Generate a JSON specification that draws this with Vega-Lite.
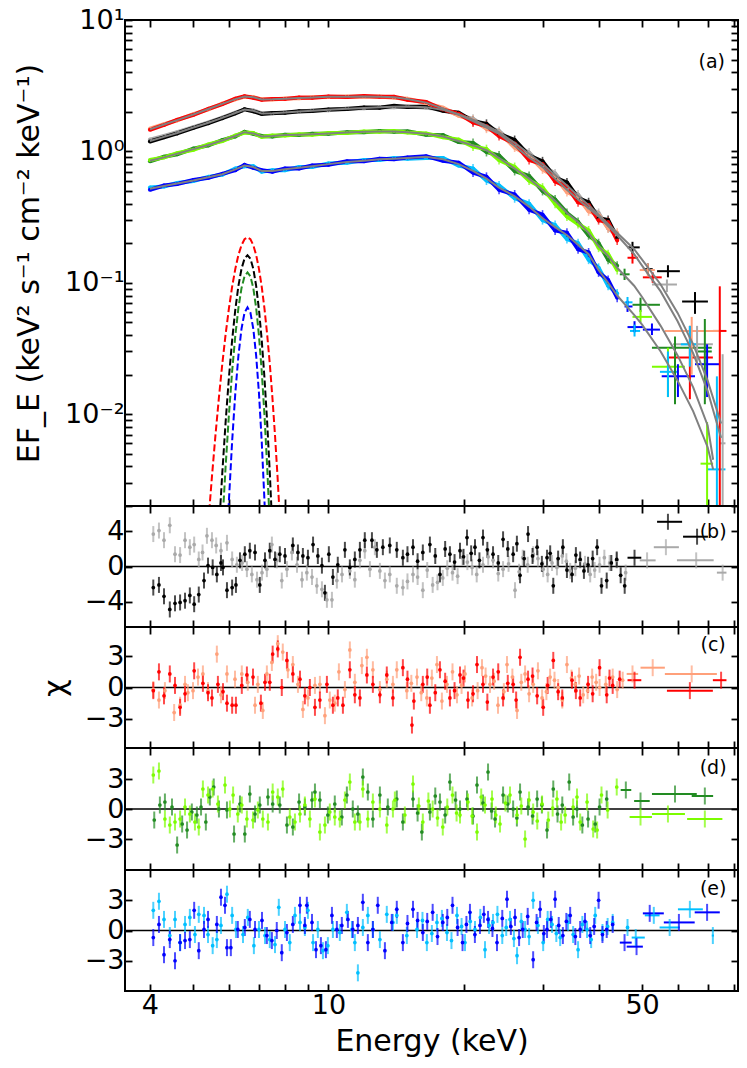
{
  "$schema": "https://vega.github.io/schema/vega-lite/v6.json",
  "padding": {"left": 13, "top": 5, "right": 2, "bottom": 5},
  "spacing": 0,
  "bounds": "flush",
  "config": {
    "font": "DejaVu Sans",
    "view": {"stroke": "black", "strokeWidth": 2},
    "axis": {
      "domain": false,
      "grid": false,
      "tickColor": "black",
      "tickWidth": 1.8,
      "tickSize": -7,
      "labelFontSize": 27,
      "labelColor": "black",
      "labelPadding": 8,
      "titleFontSize": 30,
      "titleFontWeight": "normal",
      "titleColor": "black"
    }
  },
  "datasets": {
    "spec": [
      {"s":"gy","E":4,"F":1.23},{"s":"gy","E":4.3,"F":1.31},{"s":"gy","E":4.6,"F":1.4},{"s":"gy","E":5,"F":1.53},{"s":"gy","E":5.4,"F":1.66},{"s":"gy","E":5.8,"F":1.81},{"s":"gy","E":6.2,"F":1.97},{"s":"gy","E":6.5,"F":2.07},{"s":"gy","E":6.8,"F":2.05},{"s":"gy","E":7.1,"F":1.95},{"s":"gy","E":7.5,"F":1.94},{"s":"gy","E":8,"F":1.99},{"s":"gy","E":8.6,"F":2.0},{"s":"gy","E":9.2,"F":2.05},{"s":"gy","E":10,"F":2.06},{"s":"gy","E":11,"F":2.12},{"s":"gy","E":12,"F":2.13},{"s":"gy","E":13,"F":2.18},{"s":"gy","E":14,"F":2.17},{"s":"gy","E":15,"F":2.21},{"s":"gy","E":16.5,"F":2.15},{"s":"gy","E":18,"F":2.09},{"s":"gy","E":19.5,"F":1.89},{"s":"gy","E":21,"F":1.77},{"s":"gy","E":22.5,"F":1.53},{"s":"gy","E":24,"F":1.43},{"s":"gy","E":26,"F":1.12},{"s":"gy","E":28,"F":0.98},{"s":"gy","E":30,"F":0.77},{"s":"gy","E":32,"F":0.68},{"s":"gy","E":34,"F":0.52},{"s":"gy","E":36,"F":0.47},{"s":"gy","E":38,"F":0.37},{"s":"gy","E":40,"F":0.34},{"s":"gy","E":42,"F":0.26},{"s":"gy","E":44,"F":0.23},
      {"s":"k","E":4,"F":1.19},{"s":"k","E":4.3,"F":1.28},{"s":"k","E":4.6,"F":1.37},{"s":"k","E":5,"F":1.51},{"s":"k","E":5.4,"F":1.64},{"s":"k","E":5.8,"F":1.79},{"s":"k","E":6.2,"F":1.95},{"s":"k","E":6.5,"F":2.09},{"s":"k","E":6.8,"F":2.02},{"s":"k","E":7.1,"F":1.93},{"s":"k","E":7.5,"F":1.96},{"s":"k","E":8,"F":1.97},{"s":"k","E":8.6,"F":2.02},{"s":"k","E":9.2,"F":2.03},{"s":"k","E":10,"F":2.08},{"s":"k","E":11,"F":2.1},{"s":"k","E":12,"F":2.16},{"s":"k","E":13,"F":2.15},{"s":"k","E":14,"F":2.22},{"s":"k","E":15,"F":2.18},{"s":"k","E":16.5,"F":2.2},{"s":"k","E":18,"F":2.04},{"s":"k","E":19.5,"F":1.97},{"s":"k","E":21,"F":1.7},{"s":"k","E":22.5,"F":1.62},{"s":"k","E":24,"F":1.36},{"s":"k","E":26,"F":1.22},{"s":"k","E":28,"F":0.93},{"s":"k","E":30,"F":0.84},{"s":"k","E":32,"F":0.63},{"s":"k","E":34,"F":0.58},{"s":"k","E":36,"F":0.44},{"s":"k","E":38,"F":0.41},{"s":"k","E":40,"F":0.31},{"s":"k","E":42,"F":0.3},{"s":"k","E":44,"F":0.22},
      {"s":"sa","E":4,"F":1.49},{"s":"sa","E":4.3,"F":1.61},{"s":"sa","E":4.6,"F":1.72},{"s":"sa","E":5,"F":1.92},{"s":"sa","E":5.4,"F":2.09},{"s":"sa","E":5.8,"F":2.31},{"s":"sa","E":6.2,"F":2.49},{"s":"sa","E":6.5,"F":2.61},{"s":"sa","E":6.8,"F":2.59},{"s":"sa","E":7.1,"F":2.49},{"s":"sa","E":7.5,"F":2.48},{"s":"sa","E":8,"F":2.53},{"s":"sa","E":8.6,"F":2.54},{"s":"sa","E":9.2,"F":2.58},{"s":"sa","E":10,"F":2.59},{"s":"sa","E":11,"F":2.62},{"s":"sa","E":12,"F":2.61},{"s":"sa","E":13,"F":2.62},{"s":"sa","E":14,"F":2.56},{"s":"sa","E":15,"F":2.52},{"s":"sa","E":16.5,"F":2.32},{"s":"sa","E":18,"F":2.15},{"s":"sa","E":19.5,"F":1.87},{"s":"sa","E":21,"F":1.73},{"s":"sa","E":22.5,"F":1.49},{"s":"sa","E":24,"F":1.39},{"s":"sa","E":26,"F":1.07},{"s":"sa","E":28,"F":0.93},{"s":"sa","E":30,"F":0.73},{"s":"sa","E":32,"F":0.64},{"s":"sa","E":34,"F":0.49},{"s":"sa","E":36,"F":0.45},{"s":"sa","E":38,"F":0.35},{"s":"sa","E":40,"F":0.33},{"s":"sa","E":42,"F":0.26},{"s":"sa","E":44,"F":0.24},
      {"s":"r","E":4,"F":1.46},{"s":"r","E":4.3,"F":1.59},{"s":"r","E":4.6,"F":1.74},{"s":"r","E":5,"F":1.9},{"s":"r","E":5.4,"F":2.11},{"s":"r","E":5.8,"F":2.29},{"s":"r","E":6.2,"F":2.52},{"s":"r","E":6.5,"F":2.63},{"s":"r","E":6.8,"F":2.56},{"s":"r","E":7.1,"F":2.47},{"s":"r","E":7.5,"F":2.5},{"s":"r","E":8,"F":2.51},{"s":"r","E":8.6,"F":2.57},{"s":"r","E":9.2,"F":2.56},{"s":"r","E":10,"F":2.62},{"s":"r","E":11,"F":2.59},{"s":"r","E":12,"F":2.64},{"s":"r","E":13,"F":2.6},{"s":"r","E":14,"F":2.6},{"s":"r","E":15,"F":2.47},{"s":"r","E":16.5,"F":2.38},{"s":"r","E":18,"F":2.08},{"s":"r","E":19.5,"F":1.94},{"s":"r","E":21,"F":1.66},{"s":"r","E":22.5,"F":1.56},{"s":"r","E":24,"F":1.31},{"s":"r","E":26,"F":1.15},{"s":"r","E":28,"F":0.86},{"s":"r","E":30,"F":0.8},{"s":"r","E":32,"F":0.59},{"s":"r","E":34,"F":0.54},{"s":"r","E":36,"F":0.41},{"s":"r","E":38,"F":0.39},{"s":"r","E":40,"F":0.3},{"s":"r","E":42,"F":0.29},{"s":"r","E":44,"F":0.21},
      {"s":"g","E":4,"F":0.84},{"s":"g","E":4.3,"F":0.91},{"s":"g","E":4.6,"F":0.95},{"s":"g","E":5,"F":1.05},{"s":"g","E":5.4,"F":1.11},{"s":"g","E":5.8,"F":1.22},{"s":"g","E":6.2,"F":1.3},{"s":"g","E":6.5,"F":1.41},{"s":"g","E":6.8,"F":1.36},{"s":"g","E":7.1,"F":1.31},{"s":"g","E":7.5,"F":1.3},{"s":"g","E":8,"F":1.34},{"s":"g","E":8.6,"F":1.33},{"s":"g","E":9.2,"F":1.36},{"s":"g","E":10,"F":1.36},{"s":"g","E":11,"F":1.4},{"s":"g","E":12,"F":1.4},{"s":"g","E":13,"F":1.43},{"s":"g","E":14,"F":1.41},{"s":"g","E":15,"F":1.42},{"s":"g","E":16.5,"F":1.34},{"s":"g","E":18,"F":1.33},{"s":"g","E":19.5,"F":1.18},{"s":"g","E":21,"F":1.16},{"s":"g","E":22.5,"F":0.99},{"s":"g","E":24,"F":0.93},{"s":"g","E":26,"F":0.71},{"s":"g","E":28,"F":0.65},{"s":"g","E":30,"F":0.5},{"s":"g","E":32,"F":0.43},{"s":"g","E":34,"F":0.34},{"s":"g","E":36,"F":0.29},{"s":"g","E":38,"F":0.23},{"s":"g","E":40,"F":0.2},{"s":"g","E":42,"F":0.15},{"s":"g","E":44,"F":0.135},
      {"s":"lg","E":4,"F":0.86},{"s":"lg","E":4.3,"F":0.9},{"s":"lg","E":4.6,"F":0.97},{"s":"lg","E":5,"F":1.03},{"s":"lg","E":5.4,"F":1.13},{"s":"lg","E":5.8,"F":1.2},{"s":"lg","E":6.2,"F":1.32},{"s":"lg","E":6.5,"F":1.39},{"s":"lg","E":6.8,"F":1.38},{"s":"lg","E":7.1,"F":1.29},{"s":"lg","E":7.5,"F":1.32},{"s":"lg","E":8,"F":1.32},{"s":"lg","E":8.6,"F":1.35},{"s":"lg","E":9.2,"F":1.34},{"s":"lg","E":10,"F":1.38},{"s":"lg","E":11,"F":1.38},{"s":"lg","E":12,"F":1.42},{"s":"lg","E":13,"F":1.41},{"s":"lg","E":14,"F":1.43},{"s":"lg","E":15,"F":1.39},{"s":"lg","E":16.5,"F":1.37},{"s":"lg","E":18,"F":1.28},{"s":"lg","E":19.5,"F":1.23},{"s":"lg","E":21,"F":1.09},{"s":"lg","E":22.5,"F":1.04},{"s":"lg","E":24,"F":0.86},{"s":"lg","E":26,"F":0.76},{"s":"lg","E":28,"F":0.6},{"s":"lg","E":30,"F":0.53},{"s":"lg","E":32,"F":0.4},{"s":"lg","E":34,"F":0.32},{"s":"lg","E":36,"F":0.28},{"s":"lg","E":38,"F":0.25},{"s":"lg","E":40,"F":0.185},{"s":"lg","E":42,"F":0.165},{"s":"lg","E":44,"F":0.125},
      {"s":"lb","E":4,"F":0.53},{"s":"lb","E":4.3,"F":0.54},{"s":"lb","E":4.6,"F":0.575},{"s":"lb","E":5,"F":0.595},{"s":"lb","E":5.4,"F":0.64},{"s":"lb","E":5.8,"F":0.665},{"s":"lb","E":6.2,"F":0.74},{"s":"lb","E":6.5,"F":0.77},{"s":"lb","E":6.8,"F":0.77},{"s":"lb","E":7.1,"F":0.7},{"s":"lb","E":7.5,"F":0.72},{"s":"lb","E":8,"F":0.72},{"s":"lb","E":8.6,"F":0.76},{"s":"lb","E":9.2,"F":0.76},{"s":"lb","E":10,"F":0.81},{"s":"lb","E":11,"F":0.82},{"s":"lb","E":12,"F":0.86},{"s":"lb","E":13,"F":0.86},{"s":"lb","E":14,"F":0.89},{"s":"lb","E":15,"F":0.88},{"s":"lb","E":16.5,"F":0.89},{"s":"lb","E":18,"F":0.89},{"s":"lb","E":19.5,"F":0.78},{"s":"lb","E":21,"F":0.74},{"s":"lb","E":22.5,"F":0.6},{"s":"lb","E":24,"F":0.55},{"s":"lb","E":26,"F":0.44},{"s":"lb","E":28,"F":0.4},{"s":"lb","E":30,"F":0.3},{"s":"lb","E":32,"F":0.275},{"s":"lb","E":34,"F":0.215},{"s":"lb","E":36,"F":0.2},{"s":"lb","E":38,"F":0.15},{"s":"lb","E":40,"F":0.13},{"s":"lb","E":42,"F":0.095},{"s":"lb","E":44,"F":0.083},
      {"s":"b","E":4,"F":0.51},{"s":"b","E":4.3,"F":0.55},{"s":"b","E":4.6,"F":0.565},{"s":"b","E":5,"F":0.605},{"s":"b","E":5.4,"F":0.63},{"s":"b","E":5.8,"F":0.675},{"s":"b","E":6.2,"F":0.72},{"s":"b","E":6.5,"F":0.79},{"s":"b","E":6.8,"F":0.75},{"s":"b","E":7.1,"F":0.72},{"s":"b","E":7.5,"F":0.7},{"s":"b","E":8,"F":0.74},{"s":"b","E":8.6,"F":0.74},{"s":"b","E":9.2,"F":0.78},{"s":"b","E":10,"F":0.79},{"s":"b","E":11,"F":0.84},{"s":"b","E":12,"F":0.84},{"s":"b","E":13,"F":0.88},{"s":"b","E":14,"F":0.87},{"s":"b","E":15,"F":0.9},{"s":"b","E":16.5,"F":0.92},{"s":"b","E":18,"F":0.85},{"s":"b","E":19.5,"F":0.82},{"s":"b","E":21,"F":0.69},{"s":"b","E":22.5,"F":0.64},{"s":"b","E":24,"F":0.51},{"s":"b","E":26,"F":0.47},{"s":"b","E":28,"F":0.36},{"s":"b","E":30,"F":0.33},{"s":"b","E":32,"F":0.25},{"s":"b","E":34,"F":0.24},{"s":"b","E":36,"F":0.18},{"s":"b","E":38,"F":0.17},{"s":"b","E":40,"F":0.12},{"s":"b","E":42,"F":0.105},{"s":"b","E":44,"F":0.077}
    ],
    "cross": [
      {"s":"k","E":47.6,"El":46.4,"Eh":49.4,"F":0.186,"Fl":0.165,"Fh":0.205},
      {"s":"k","E":51.5,"El":50.2,"Eh":52.8,"F":0.127,"Fl":0.116,"Fh":0.14},
      {"s":"k","E":57.1,"El":54.0,"Eh":60.7,"F":0.1225,"Fl":0.11,"Fh":0.136},
      {"s":"k","E":65.6,"El":61.4,"Eh":70.1,"F":0.072,"Fl":0.058,"Fh":0.085},
      {"s":"gy","E":56.8,"El":52.6,"Eh":59.8,"F":0.097,"Fl":0.085,"Fh":0.106},
      {"s":"gy","E":66.3,"El":58.6,"Eh":71.9,"F":0.034,"Fl":0.024,"Fh":0.047},
      {"s":"gy","E":75.6,"El":74.5,"Eh":76.7,"F":0.006,"Fl":0.0015,"Fh":0.0286},
      {"s":"r","E":47.6,"El":46.4,"Eh":49.0,"F":0.155,"Fl":0.14,"Fh":0.17},
      {"s":"r","E":52.8,"El":50.2,"Eh":55.3,"F":0.11,"Fl":0.1,"Fh":0.12},
      {"s":"r","E":63.9,"El":56.8,"Eh":71.9,"F":0.027,"Fl":0.013,"Fh":0.047},
      {"s":"r","E":74.5,"El":71.9,"Eh":77.1,"F":0.043,"Fl":0.0015,"Fh":0.094},
      {"s":"sa","E":51.5,"El":49.4,"Eh":53.4,"F":0.125,"Fl":0.112,"Fh":0.14},
      {"s":"sa","E":64.5,"El":56.2,"Eh":74.5,"F":0.043,"Fl":0.02,"Fh":0.055},
      {"s":"g","E":45.7,"El":44.6,"Eh":46.9,"F":0.116,"Fl":0.105,"Fh":0.128},
      {"s":"g","E":49.6,"El":47.6,"Eh":54.8,"F":0.068,"Fl":0.06,"Fh":0.077},
      {"s":"g","E":59.2,"El":52.6,"Eh":71.5,"F":0.032,"Fl":0.0119,"Fh":0.039},
      {"s":"g","E":69.0,"El":66.5,"Eh":71.5,"F":0.03,"Fl":0.0119,"Fh":0.053},
      {"s":"lg","E":49.6,"El":47.6,"Eh":52.6,"F":0.055,"Fl":0.05,"Fh":0.062},
      {"s":"lg","E":57.1,"El":52.6,"Eh":62.3,"F":0.023,"Fl":0.0135,"Fh":0.032},
      {"s":"lg","E":69.8,"El":67.5,"Eh":72.0,"F":0.0042,"Fl":0.0015,"Fh":0.0087},
      {"s":"b","E":46.4,"El":45.7,"Eh":47.6,"F":0.066,"Fl":0.06,"Fh":0.073},
      {"s":"b","E":48.1,"El":46.4,"Eh":50.2,"F":0.046,"Fl":0.042,"Fh":0.051},
      {"s":"b","E":52.6,"El":50.2,"Eh":54.8,"F":0.044,"Fl":0.04,"Fh":0.049},
      {"s":"b","E":60.1,"El":55.3,"Eh":65.6,"F":0.0194,"Fl":0.0135,"Fh":0.024},
      {"s":"b","E":69.8,"El":65.6,"Eh":74.5,"F":0.024,"Fl":0.0135,"Fh":0.034},
      {"s":"lb","E":46.4,"El":45.7,"Eh":47.6,"F":0.071,"Fl":0.064,"Fh":0.078},
      {"s":"lb","E":48.1,"El":47.0,"Eh":49.5,"F":0.043,"Fl":0.039,"Fh":0.048},
      {"s":"lb","E":57.1,"El":54.8,"Eh":59.8,"F":0.021,"Fl":0.0135,"Fh":0.03},
      {"s":"lb","E":63.9,"El":61.0,"Eh":66.5,"F":0.034,"Fl":0.023,"Fh":0.047},
      {"s":"lb","E":73.4,"El":69.8,"Eh":76.7,"F":0.0038,"Fl":0.0015,"Fh":0.0194}
    ],
    "model": [
      {"m":"k","E":4,"F":1.2},{"m":"k","E":4.3,"F":1.29},{"m":"k","E":4.6,"F":1.38},{"m":"k","E":5,"F":1.52},{"m":"k","E":5.4,"F":1.65},{"m":"k","E":5.8,"F":1.8},{"m":"k","E":6.2,"F":1.96},{"m":"k","E":6.5,"F":2.08},{"m":"k","E":6.8,"F":2.04},{"m":"k","E":7.1,"F":1.94},{"m":"k","E":7.5,"F":1.95},{"m":"k","E":8,"F":1.98},{"m":"k","E":8.6,"F":2.01},{"m":"k","E":9.2,"F":2.04},{"m":"k","E":10,"F":2.07},{"m":"k","E":11,"F":2.11},{"m":"k","E":12,"F":2.14},{"m":"k","E":13,"F":2.17},{"m":"k","E":14,"F":2.19},{"m":"k","E":15,"F":2.2},{"m":"k","E":16.5,"F":2.17},{"m":"k","E":18,"F":2.07},{"m":"k","E":19.5,"F":1.92},{"m":"k","E":21,"F":1.74},{"m":"k","E":22.5,"F":1.57},{"m":"k","E":24,"F":1.4},{"m":"k","E":26,"F":1.16},{"m":"k","E":28,"F":0.96},{"m":"k","E":30,"F":0.8},{"m":"k","E":32,"F":0.66},{"m":"k","E":34,"F":0.55},{"m":"k","E":36,"F":0.46},{"m":"k","E":38,"F":0.39},{"m":"k","E":40,"F":0.33},{"m":"k","E":42,"F":0.28},{"m":"k","E":44,"F":0.24},{"m":"k","E":48,"F":0.18},{"m":"k","E":50,"F":0.15},{"m":"k","E":55,"F":0.097},{"m":"k","E":60,"F":0.059},{"m":"k","E":65,"F":0.034},{"m":"k","E":70,"F":0.018},{"m":"k","E":75,"F":0.0085},
      {"m":"r","E":4,"F":1.47},{"m":"r","E":4.3,"F":1.6},{"m":"r","E":4.6,"F":1.73},{"m":"r","E":5,"F":1.91},{"m":"r","E":5.4,"F":2.1},{"m":"r","E":5.8,"F":2.3},{"m":"r","E":6.2,"F":2.5},{"m":"r","E":6.5,"F":2.62},{"m":"r","E":6.8,"F":2.58},{"m":"r","E":7.1,"F":2.48},{"m":"r","E":7.5,"F":2.49},{"m":"r","E":8,"F":2.52},{"m":"r","E":8.6,"F":2.55},{"m":"r","E":9.2,"F":2.57},{"m":"r","E":10,"F":2.6},{"m":"r","E":11,"F":2.61},{"m":"r","E":12,"F":2.62},{"m":"r","E":13,"F":2.61},{"m":"r","E":14,"F":2.58},{"m":"r","E":15,"F":2.5},{"m":"r","E":16.5,"F":2.35},{"m":"r","E":18,"F":2.12},{"m":"r","E":19.5,"F":1.9},{"m":"r","E":21,"F":1.7},{"m":"r","E":22.5,"F":1.52},{"m":"r","E":24,"F":1.36},{"m":"r","E":26,"F":1.1},{"m":"r","E":28,"F":0.9},{"m":"r","E":30,"F":0.76},{"m":"r","E":32,"F":0.62},{"m":"r","E":34,"F":0.51},{"m":"r","E":36,"F":0.43},{"m":"r","E":38,"F":0.37},{"m":"r","E":40,"F":0.32},{"m":"r","E":42,"F":0.27},{"m":"r","E":44,"F":0.23},{"m":"r","E":48,"F":0.165},{"m":"r","E":50,"F":0.135},{"m":"r","E":55,"F":0.086},{"m":"r","E":60,"F":0.051},{"m":"r","E":65,"F":0.029},{"m":"r","E":70,"F":0.015},{"m":"r","E":75,"F":0.0066},
      {"m":"g","E":4,"F":0.85},{"m":"g","E":4.3,"F":0.9},{"m":"g","E":4.6,"F":0.96},{"m":"g","E":5,"F":1.04},{"m":"g","E":5.4,"F":1.12},{"m":"g","E":5.8,"F":1.21},{"m":"g","E":6.2,"F":1.31},{"m":"g","E":6.5,"F":1.4},{"m":"g","E":6.8,"F":1.37},{"m":"g","E":7.1,"F":1.3},{"m":"g","E":7.5,"F":1.31},{"m":"g","E":8,"F":1.33},{"m":"g","E":8.6,"F":1.34},{"m":"g","E":9.2,"F":1.35},{"m":"g","E":10,"F":1.37},{"m":"g","E":11,"F":1.39},{"m":"g","E":12,"F":1.41},{"m":"g","E":13,"F":1.42},{"m":"g","E":14,"F":1.42},{"m":"g","E":15,"F":1.4},{"m":"g","E":16.5,"F":1.36},{"m":"g","E":18,"F":1.3},{"m":"g","E":19.5,"F":1.2},{"m":"g","E":21,"F":1.11},{"m":"g","E":22.5,"F":1.02},{"m":"g","E":24,"F":0.89},{"m":"g","E":26,"F":0.74},{"m":"g","E":28,"F":0.62},{"m":"g","E":30,"F":0.51},{"m":"g","E":32,"F":0.42},{"m":"g","E":34,"F":0.34},{"m":"g","E":36,"F":0.29},{"m":"g","E":38,"F":0.24},{"m":"g","E":40,"F":0.19},{"m":"g","E":42,"F":0.16},{"m":"g","E":44,"F":0.13},{"m":"g","E":48,"F":0.095},{"m":"g","E":50,"F":0.078},{"m":"g","E":55,"F":0.047},{"m":"g","E":60,"F":0.028},{"m":"g","E":65,"F":0.016},{"m":"g","E":70,"F":0.0082},{"m":"g","E":72,"F":0.0045},
      {"m":"b","E":4,"F":0.52},{"m":"b","E":4.3,"F":0.545},{"m":"b","E":4.6,"F":0.57},{"m":"b","E":5,"F":0.6},{"m":"b","E":5.4,"F":0.635},{"m":"b","E":5.8,"F":0.67},{"m":"b","E":6.2,"F":0.73},{"m":"b","E":6.5,"F":0.78},{"m":"b","E":6.8,"F":0.76},{"m":"b","E":7.1,"F":0.71},{"m":"b","E":7.5,"F":0.71},{"m":"b","E":8,"F":0.73},{"m":"b","E":8.6,"F":0.75},{"m":"b","E":9.2,"F":0.77},{"m":"b","E":10,"F":0.8},{"m":"b","E":11,"F":0.83},{"m":"b","E":12,"F":0.85},{"m":"b","E":13,"F":0.87},{"m":"b","E":14,"F":0.88},{"m":"b","E":15,"F":0.89},{"m":"b","E":16.5,"F":0.91},{"m":"b","E":18,"F":0.87},{"m":"b","E":19.5,"F":0.8},{"m":"b","E":21,"F":0.71},{"m":"b","E":22.5,"F":0.62},{"m":"b","E":24,"F":0.53},{"m":"b","E":26,"F":0.455},{"m":"b","E":28,"F":0.38},{"m":"b","E":30,"F":0.31},{"m":"b","E":32,"F":0.265},{"m":"b","E":34,"F":0.23},{"m":"b","E":36,"F":0.195},{"m":"b","E":38,"F":0.165},{"m":"b","E":40,"F":0.125},{"m":"b","E":42,"F":0.1},{"m":"b","E":44,"F":0.08},{"m":"b","E":48,"F":0.057},{"m":"b","E":50,"F":0.048},{"m":"b","E":55,"F":0.03},{"m":"b","E":60,"F":0.018},{"m":"b","E":65,"F":0.0105},{"m":"b","E":70,"F":0.0056},{"m":"b","E":72,"F":0.0038}
    ],
    "gauss": [
      {"s":"r","E":5.3,"F":0.00064},{"s":"r","E":5.4,"F":0.00152},{"s":"r","E":5.5,"F":0.00336},{"s":"r","E":5.6,"F":0.00695},{"s":"r","E":5.7,"F":0.0134},{"s":"r","E":5.8,"F":0.0242},{"s":"r","E":5.9,"F":0.0407},{"s":"r","E":6.0,"F":0.0638},{"s":"r","E":6.1,"F":0.0934},{"s":"r","E":6.2,"F":0.1276},{"s":"r","E":6.3,"F":0.163},{"s":"r","E":6.4,"F":0.1933},{"s":"r","E":6.5,"F":0.2144},{"s":"r","E":6.6,"F":0.222},{"s":"r","E":6.7,"F":0.2144},{"s":"r","E":6.8,"F":0.1933},{"s":"r","E":6.9,"F":0.163},{"s":"r","E":7.0,"F":0.1276},{"s":"r","E":7.1,"F":0.0934},{"s":"r","E":7.2,"F":0.0638},{"s":"r","E":7.3,"F":0.0407},{"s":"r","E":7.4,"F":0.0242},{"s":"r","E":7.5,"F":0.0134},{"s":"r","E":7.6,"F":0.00695},{"s":"r","E":7.7,"F":0.00336},{"s":"r","E":7.8,"F":0.00152},{"s":"r","E":7.9,"F":0.00064},
      {"s":"k","E":5.6,"F":0.00042},{"s":"k","E":5.7,"F":0.00131},{"s":"k","E":5.8,"F":0.00359},{"s":"k","E":5.9,"F":0.00877},{"s":"k","E":6.0,"F":0.019},{"s":"k","E":6.1,"F":0.0366},{"s":"k","E":6.2,"F":0.0625},{"s":"k","E":6.3,"F":0.0948},{"s":"k","E":6.4,"F":0.1277},{"s":"k","E":6.5,"F":0.1527},{"s":"k","E":6.6,"F":0.162},{"s":"k","E":6.7,"F":0.1527},{"s":"k","E":6.8,"F":0.1277},{"s":"k","E":6.9,"F":0.0948},{"s":"k","E":7.0,"F":0.0625},{"s":"k","E":7.1,"F":0.0366},{"s":"k","E":7.2,"F":0.019},{"s":"k","E":7.3,"F":0.00877},{"s":"k","E":7.4,"F":0.00359},{"s":"k","E":7.5,"F":0.00131},{"s":"k","E":7.6,"F":0.00042},
      {"s":"g","E":5.7,"F":0.00044},{"s":"g","E":5.8,"F":0.00143},{"s":"g","E":5.9,"F":0.00403},{"s":"g","E":6.0,"F":0.0099},{"s":"g","E":6.1,"F":0.0212},{"s":"g","E":6.2,"F":0.0396},{"s":"g","E":6.3,"F":0.0644},{"s":"g","E":6.4,"F":0.091},{"s":"g","E":6.5,"F":0.112},{"s":"g","E":6.6,"F":0.12},{"s":"g","E":6.7,"F":0.112},{"s":"g","E":6.8,"F":0.091},{"s":"g","E":6.9,"F":0.0644},{"s":"g","E":7.0,"F":0.0396},{"s":"g","E":7.1,"F":0.0212},{"s":"g","E":7.2,"F":0.0099},{"s":"g","E":7.3,"F":0.00403},{"s":"g","E":7.4,"F":0.00143},{"s":"g","E":7.5,"F":0.00044},
      {"s":"b","E":5.9,"F":0.00065},{"s":"b","E":6.0,"F":0.00221},{"s":"b","E":6.1,"F":0.00622},{"s":"b","E":6.2,"F":0.01447},{"s":"b","E":6.3,"F":0.0279},{"s":"b","E":6.4,"F":0.0446},{"s":"b","E":6.5,"F":0.0592},{"s":"b","E":6.6,"F":0.065},{"s":"b","E":6.7,"F":0.0592},{"s":"b","E":6.8,"F":0.0446},{"s":"b","E":6.9,"F":0.0279},{"s":"b","E":7.0,"F":0.01447},{"s":"b","E":7.1,"F":0.00622},{"s":"b","E":7.2,"F":0.00221},{"s":"b","E":7.3,"F":0.00065}
    ],
    "res": [
      {"s":"gy","E":4.07,"R":3.7},{"s":"gy","E":4.19,"R":4.1},{"s":"gy","E":4.3,"R":3},{"s":"gy","E":4.43,"R":4.7},{"s":"gy","E":4.55,"R":1.4},{"s":"gy","E":4.67,"R":1.3},{"s":"gy","E":4.79,"R":3},{"s":"gy","E":4.91,"R":2.2},{"s":"gy","E":5.02,"R":2.5},{"s":"gy","E":5.14,"R":0.8},{"s":"gy","E":5.24,"R":1.6},{"s":"gy","E":5.36,"R":3.5},{"s":"gy","E":5.5,"R":3},{"s":"gy","E":5.62,"R":2.4},{"s":"gy","E":5.76,"R":1.8},{"s":"gy","E":5.94,"R":2.7},{"s":"gy","E":6.1,"R":0.8},{"s":"gy","E":6.25,"R":0.2},{"s":"gy","E":6.42,"R":0.4},{"s":"gy","E":6.58,"R":-0.3},{"s":"gy","E":6.75,"R":-0.9},{"s":"gy","E":6.93,"R":-1.5},{"s":"gy","E":7.11,"R":-0.7},{"s":"gy","E":7.29,"R":-0.3},{"s":"gy","E":7.48,"R":2.5},{"s":"gy","E":7.67,"R":0.7},{"s":"gy","E":7.87,"R":-1.6},{"s":"gy","E":8.08,"R":-0.3},{"s":"gy","E":8.29,"R":1.6},{"s":"gy","E":8.51,"R":0.2},{"s":"gy","E":8.73,"R":-1.5},{"s":"gy","E":8.95,"R":-0.7},{"s":"gy","E":9.19,"R":-1.2},{"s":"gy","E":9.42,"R":-2.2},{"s":"gy","E":9.67,"R":-2.6},{"s":"gy","E":9.92,"R":-3.8},{"s":"gy","E":10.18,"R":-3.8},{"s":"gy","E":10.44,"R":-1.6},{"s":"gy","E":10.72,"R":-0.9},{"s":"gy","E":11.16,"R":-0.5},{"s":"gy","E":11.45,"R":-1.5},{"s":"gy","E":11.75,"R":0.7},{"s":"gy","E":12.05,"R":1.8},{"s":"gy","E":12.37,"R":-0.3},{"s":"gy","E":12.69,"R":2.2},{"s":"gy","E":13.02,"R":-0.5},{"s":"gy","E":13.36,"R":-1.6},{"s":"gy","E":13.7,"R":-0.9},{"s":"gy","E":14.2,"R":-2.2},{"s":"gy","E":14.65,"R":-2.4},{"s":"gy","E":15,"R":-1.7},{"s":"gy","E":15.43,"R":-0.9},{"s":"gy","E":15.8,"R":-1.2},{"s":"gy","E":16.23,"R":-2.7},{"s":"gy","E":16.6,"R":-0.4},{"s":"gy","E":17.07,"R":-2.1},{"s":"gy","E":17.5,"R":-1.8},{"s":"gy","E":17.98,"R":-1.3},{"s":"gy","E":18.4,"R":-0.2},{"s":"gy","E":18.9,"R":-0.7},{"s":"gy","E":19.4,"R":-1.1},{"s":"gy","E":19.9,"R":1},{"s":"gy","E":20.4,"R":0.5},{"s":"gy","E":20.9,"R":-0.1},{"s":"gy","E":21.4,"R":-0.9},{"s":"gy","E":22.1,"R":0.2},{"s":"gy","E":22.7,"R":1.1},{"s":"gy","E":23.27,"R":0.7},{"s":"gy","E":23.9,"R":-0.8},{"s":"gy","E":24.5,"R":-0.3},{"s":"gy","E":25.2,"R":0.3},{"s":"gy","E":26.05,"R":-2.7},{"s":"gy","E":26.6,"R":-0.6},{"s":"gy","E":27.1,"R":1},{"s":"gy","E":27.8,"R":0.2},{"s":"gy","E":28.6,"R":1.4},{"s":"gy","E":29.3,"R":0.9},{"s":"gy","E":30.1,"R":-0.3},{"s":"gy","E":30.8,"R":-0.9},{"s":"gy","E":31.5,"R":0.4},{"s":"gy","E":32.3,"R":-0.1},{"s":"gy","E":33.2,"R":1.2},{"s":"gy","E":33.9,"R":0.6},{"s":"gy","E":34.57,"R":-0.5},{"s":"gy","E":35.5,"R":-0.2},{"s":"gy","E":36.39,"R":0.7},{"s":"gy","E":37.3,"R":0.3},{"s":"gy","E":38.31,"R":-0.9},{"s":"gy","E":39.2,"R":-0.4},{"s":"gy","E":40.2,"R":0.2},{"s":"gy","E":41.2,"R":1},{"s":"gy","E":42.33,"R":0.4},{"s":"gy","E":43.9,"R":0.7},{"s":"gy","E":45.96,"R":-0.7},
      {"s":"k","E":4.07,"R":-2.4},{"s":"k","E":4.19,"R":-2.1},{"s":"k","E":4.3,"R":-3.4},{"s":"k","E":4.43,"R":-4.9},{"s":"k","E":4.55,"R":-4.2},{"s":"k","E":4.67,"R":-4.1},{"s":"k","E":4.79,"R":-3.9},{"s":"k","E":4.91,"R":-3.3},{"s":"k","E":5.02,"R":-4.3},{"s":"k","E":5.14,"R":-3.2},{"s":"k","E":5.28,"R":-1.6},{"s":"k","E":5.39,"R":0.1},{"s":"k","E":5.52,"R":-0.1},{"s":"k","E":5.64,"R":-0.9},{"s":"k","E":5.76,"R":0.4},{"s":"k","E":5.82,"R":-0.1},{"s":"k","E":5.94,"R":-2.7},{"s":"k","E":6.1,"R":-2.4},{"s":"k","E":6.22,"R":-2.1},{"s":"k","E":6.35,"R":0.7},{"s":"k","E":6.51,"R":1.4},{"s":"k","E":6.68,"R":1.8},{"s":"k","E":6.86,"R":1.6},{"s":"k","E":7.03,"R":-2.1},{"s":"k","E":7.22,"R":0.7},{"s":"k","E":7.4,"R":1.8},{"s":"k","E":7.6,"R":0.8},{"s":"k","E":7.79,"R":1.4},{"s":"k","E":8,"R":1.2},{"s":"k","E":8.33,"R":2.4},{"s":"k","E":8.55,"R":1.6},{"s":"k","E":8.77,"R":1.2},{"s":"k","E":9,"R":1},{"s":"k","E":9.24,"R":2.5},{"s":"k","E":9.47,"R":1.2},{"s":"k","E":9.67,"R":0.1},{"s":"k","E":9.82,"R":-3},{"s":"k","E":10.02,"R":1.4},{"s":"k","E":10.23,"R":-1.2},{"s":"k","E":10.49,"R":0.2},{"s":"k","E":10.88,"R":1.9},{"s":"k","E":11.16,"R":-0.1},{"s":"k","E":11.45,"R":0.8},{"s":"k","E":11.75,"R":1.9},{"s":"k","E":12.05,"R":3},{"s":"k","E":12.5,"R":3},{"s":"k","E":12.82,"R":1.9},{"s":"k","E":13.22,"R":2.2},{"s":"k","E":13.7,"R":2.4},{"s":"k","E":14.2,"R":1.9},{"s":"k","E":14.65,"R":1},{"s":"k","E":15,"R":1.4},{"s":"k","E":15.43,"R":2.2},{"s":"k","E":15.8,"R":0.6},{"s":"k","E":16.23,"R":1.6},{"s":"k","E":16.83,"R":2.5},{"s":"k","E":17.3,"R":1.2},{"s":"k","E":17.72,"R":-0.9},{"s":"k","E":18.2,"R":2},{"s":"k","E":18.65,"R":1.4},{"s":"k","E":19.1,"R":0.5},{"s":"k","E":19.64,"R":1.8},{"s":"k","E":20,"R":1.1},{"s":"k","E":20.36,"R":3.3},{"s":"k","E":20.8,"R":1.5},{"s":"k","E":21.21,"R":2.2},{"s":"k","E":21.7,"R":0.7},{"s":"k","E":22.1,"R":3.3},{"s":"k","E":22.6,"R":1.9},{"s":"k","E":23.27,"R":1.4},{"s":"k","E":23.9,"R":0.4},{"s":"k","E":24.5,"R":3.1},{"s":"k","E":25.1,"R":2},{"s":"k","E":25.8,"R":1.4},{"s":"k","E":26.3,"R":2.6},{"s":"k","E":26.73,"R":-1},{"s":"k","E":27.3,"R":0.9},{"s":"k","E":27.85,"R":3.7},{"s":"k","E":28.5,"R":1.2},{"s":"k","E":29.18,"R":2.2},{"s":"k","E":29.9,"R":0.3},{"s":"k","E":30.7,"R":1},{"s":"k","E":31.2,"R":1.5},{"s":"k","E":31.7,"R":-2.2},{"s":"k","E":32.5,"R":0.9},{"s":"k","E":33.3,"R":2.2},{"s":"k","E":34,"R":-0.4},{"s":"k","E":34.9,"R":-0.9},{"s":"k","E":35.6,"R":1.3},{"s":"k","E":36.39,"R":0.8},{"s":"k","E":37.1,"R":-0.5},{"s":"k","E":37.9,"R":0.2},{"s":"k","E":38.8,"R":0.9},{"s":"k","E":39.7,"R":2.2},{"s":"k","E":40.6,"R":-2.2},{"s":"k","E":41.7,"R":-1.6},{"s":"k","E":42.7,"R":0.4},{"s":"k","E":43.9,"R":0.8},{"s":"k","E":44.8,"R":-1},{"s":"k","E":45.73,"R":-2.2},
      {"s":"sa","E":4.07,"R":-0.2},{"s":"sa","E":4.19,"R":-1.2},{"s":"sa","E":4.32,"R":-0.3},{"s":"sa","E":4.53,"R":-2.4},{"s":"sa","E":4.67,"R":-1.7},{"s":"sa","E":4.79,"R":0.3},{"s":"sa","E":4.86,"R":-0.5},{"s":"sa","E":4.99,"R":-0.3},{"s":"sa","E":5.12,"R":1},{"s":"sa","E":5.25,"R":1.3},{"s":"sa","E":5.39,"R":-0.3},{"s":"sa","E":5.64,"R":3.2},{"s":"sa","E":5.76,"R":-0.7},{"s":"sa","E":5.94,"R":1.3},{"s":"sa","E":6.19,"R":0.8},{"s":"sa","E":6.41,"R":1.3},{"s":"sa","E":6.61,"R":0.5},{"s":"sa","E":6.86,"R":-1.7},{"s":"sa","E":6.96,"R":0.3},{"s":"sa","E":7.14,"R":-2.2},{"s":"sa","E":7.29,"R":1.3},{"s":"sa","E":7.48,"R":2.4},{"s":"sa","E":7.71,"R":4.2},{"s":"sa","E":7.91,"R":3.4},{"s":"sa","E":8.12,"R":1.7},{"s":"sa","E":8.33,"R":2.2},{"s":"sa","E":8.55,"R":0.3},{"s":"sa","E":8.77,"R":-2.1},{"s":"sa","E":9,"R":-1},{"s":"sa","E":9.33,"R":0.2},{"s":"sa","E":9.57,"R":0.3},{"s":"sa","E":9.82,"R":-2.7},{"s":"sa","E":10.07,"R":-1.2},{"s":"sa","E":10.33,"R":-1.5},{"s":"sa","E":10.55,"R":1.5},{"s":"sa","E":10.88,"R":-0.2},{"s":"sa","E":11.16,"R":3.6},{"s":"sa","E":11.45,"R":0.5},{"s":"sa","E":11.87,"R":2.1},{"s":"sa","E":12.18,"R":2.9},{"s":"sa","E":12.56,"R":1.7},{"s":"sa","E":13.02,"R":-0.2},{"s":"sa","E":13.49,"R":0.8},{"s":"sa","E":13.92,"R":0.3},{"s":"sa","E":14.2,"R":1.7},{"s":"sa","E":14.95,"R":-0.3},{"s":"sa","E":15.3,"R":0.4},{"s":"sa","E":15.75,"R":1},{"s":"sa","E":16.1,"R":-0.5},{"s":"sa","E":16.57,"R":-1},{"s":"sa","E":17,"R":0.9},{"s":"sa","E":17.45,"R":2.2},{"s":"sa","E":17.9,"R":-1.3},{"s":"sa","E":18.37,"R":0.3},{"s":"sa","E":18.9,"R":1.5},{"s":"sa","E":19.34,"R":-0.7},{"s":"sa","E":19.8,"R":0.2},{"s":"sa","E":20.15,"R":1.3},{"s":"sa","E":20.9,"R":-1},{"s":"sa","E":21.5,"R":-0.3},{"s":"sa","E":21.99,"R":1.9},{"s":"sa","E":22.4,"R":1.1},{"s":"sa","E":22.91,"R":0.3},{"s":"sa","E":23.4,"R":0.6},{"s":"sa","E":23.87,"R":-1.7},{"s":"sa","E":24.6,"R":-0.4},{"s":"sa","E":25,"R":2.2},{"s":"sa","E":25.7,"R":1},{"s":"sa","E":26.32,"R":-2.2},{"s":"sa","E":26.9,"R":0.5},{"s":"sa","E":27.43,"R":1.3},{"s":"sa","E":28,"R":-0.6},{"s":"sa","E":28.59,"R":0.3},{"s":"sa","E":29.3,"R":1.6},{"s":"sa","E":29.93,"R":-1},{"s":"sa","E":30.6,"R":-0.4},{"s":"sa","E":31.19,"R":1},{"s":"sa","E":31.9,"R":0.7},{"s":"sa","E":32.5,"R":0},{"s":"sa","E":33.2,"R":-1.2},{"s":"sa","E":34,"R":2.2},{"s":"sa","E":34.8,"R":0.9},{"s":"sa","E":35.47,"R":0.3},{"s":"sa","E":36.2,"R":1.1},{"s":"sa","E":36.96,"R":-0.7},{"s":"sa","E":37.8,"R":-0.3},{"s":"sa","E":38.7,"R":1},{"s":"sa","E":39.5,"R":0.5},{"s":"sa","E":40.2,"R":0},{"s":"sa","E":41.5,"R":0.3},{"s":"sa","E":43,"R":1},{"s":"sa","E":44,"R":-0.2},{"s":"sa","E":45.26,"R":0.7},
      {"s":"r","E":4.07,"R":-0.3},{"s":"r","E":4.19,"R":1.5},{"s":"r","E":4.3,"R":-0.8},{"s":"r","E":4.43,"R":1.3},{"s":"r","E":4.55,"R":0.2},{"s":"r","E":4.67,"R":-1.9},{"s":"r","E":4.79,"R":-0.6},{"s":"r","E":5.02,"R":1.6},{"s":"r","E":5.25,"R":0.4},{"s":"r","E":5.39,"R":-0.5},{"s":"r","E":5.5,"R":-1},{"s":"r","E":5.67,"R":0.3},{"s":"r","E":5.82,"R":-0.4},{"s":"r","E":5.94,"R":-1.5},{"s":"r","E":6.1,"R":-1.7},{"s":"r","E":6.22,"R":-1.7},{"s":"r","E":6.41,"R":0.2},{"s":"r","E":6.58,"R":1.2},{"s":"r","E":6.79,"R":1},{"s":"r","E":7.07,"R":-1.5},{"s":"r","E":7.22,"R":0.5},{"s":"r","E":7.4,"R":0.5},{"s":"r","E":7.51,"R":3.2},{"s":"r","E":7.71,"R":3.7},{"s":"r","E":7.87,"R":0},{"s":"r","E":8.08,"R":2.6},{"s":"r","E":8.33,"R":1.3},{"s":"r","E":8.64,"R":0.8},{"s":"r","E":8.86,"R":-0.8},{"s":"r","E":9.09,"R":0},{"s":"r","E":9.33,"R":-1.9},{"s":"r","E":9.57,"R":-1.2},{"s":"r","E":9.92,"R":0.3},{"s":"r","E":10.23,"R":-1.7},{"s":"r","E":10.49,"R":-1},{"s":"r","E":10.77,"R":-1.7},{"s":"r","E":11.16,"R":1.7},{"s":"r","E":11.45,"R":-0.7},{"s":"r","E":11.75,"R":-1},{"s":"r","E":12.18,"R":1.2},{"s":"r","E":12.56,"R":0.3},{"s":"r","E":13.02,"R":-0.7},{"s":"r","E":13.49,"R":1.2},{"s":"r","E":13.92,"R":-1},{"s":"r","E":14.65,"R":1.9},{"s":"r","E":15,"R":0.8},{"s":"r","E":15.35,"R":-3.6},{"s":"r","E":15.5,"R":-1.3},{"s":"r","E":16.23,"R":0.3},{"s":"r","E":16.6,"R":1},{"s":"r","E":16.83,"R":-1.7},{"s":"r","E":17.3,"R":-0.5},{"s":"r","E":17.72,"R":1.7},{"s":"r","E":18.2,"R":0.6},{"s":"r","E":18.65,"R":-1},{"s":"r","E":19.1,"R":-0.3},{"s":"r","E":19.64,"R":1.2},{"s":"r","E":20,"R":0.9},{"s":"r","E":20.46,"R":-1.2},{"s":"r","E":21,"R":-0.6},{"s":"r","E":21.43,"R":2.2},{"s":"r","E":22.1,"R":0.3},{"s":"r","E":22.6,"R":-1.4},{"s":"r","E":23.27,"R":1},{"s":"r","E":23.9,"R":1.5},{"s":"r","E":24.5,"R":-1},{"s":"r","E":25.1,"R":0.4},{"s":"r","E":25.8,"R":0.3},{"s":"r","E":26.2,"R":-1.2},{"s":"r","E":26.73,"R":2.9},{"s":"r","E":27.85,"R":0.8},{"s":"r","E":28.5,"R":1.1},{"s":"r","E":29.18,"R":-0.8},{"s":"r","E":30.1,"R":-1.9},{"s":"r","E":30.8,"R":0.2},{"s":"r","E":31.7,"R":2.6},{"s":"r","E":32.5,"R":-0.4},{"s":"r","E":33.2,"R":-1},{"s":"r","E":34.9,"R":0.7},{"s":"r","E":35.6,"R":-0.3},{"s":"r","E":36.39,"R":-1},{"s":"r","E":37.9,"R":0.3},{"s":"r","E":38.8,"R":-0.6},{"s":"r","E":40.2,"R":1.9},{"s":"r","E":41.7,"R":-0.7},{"s":"r","E":42.3,"R":0.9},{"s":"r","E":43,"R":0.2},{"s":"r","E":44.57,"R":0.8},
      {"s":"g","E":4.09,"R":-1.1},{"s":"g","E":4.21,"R":0.4},{"s":"g","E":4.32,"R":0.7},{"s":"g","E":4.48,"R":0.2},{"s":"g","E":4.6,"R":-3.6},{"s":"g","E":4.72,"R":-1.5},{"s":"g","E":4.84,"R":-2.1},{"s":"g","E":4.96,"R":-0.3},{"s":"g","E":5.09,"R":-0.6},{"s":"g","E":5.2,"R":0.2},{"s":"g","E":5.33,"R":-1.3},{"s":"g","E":5.44,"R":1.2},{"s":"g","E":5.55,"R":2.2},{"s":"g","E":5.7,"R":0},{"s":"g","E":5.94,"R":-0.1},{"s":"g","E":6.16,"R":-2.5},{"s":"g","E":6.35,"R":0.5},{"s":"g","E":6.51,"R":-2.5},{"s":"g","E":6.68,"R":1.5},{"s":"g","E":6.86,"R":-0.5},{"s":"g","E":7.03,"R":0.4},{"s":"g","E":7.33,"R":1.2},{"s":"g","E":7.51,"R":0.5},{"s":"g","E":7.79,"R":0.4},{"s":"g","E":8.08,"R":-1.6},{"s":"g","E":8.33,"R":-1.8},{"s":"g","E":8.6,"R":0.7},{"s":"g","E":8.86,"R":0.2},{"s":"g","E":9.19,"R":0.9},{"s":"g","E":9.33,"R":1.7},{"s":"g","E":9.57,"R":0.9},{"s":"g","E":9.97,"R":-0.6},{"s":"g","E":10.33,"R":0.5},{"s":"g","E":10.71,"R":-0.8},{"s":"g","E":10.99,"R":1.4},{"s":"g","E":11.33,"R":0},{"s":"g","E":11.63,"R":-0.5},{"s":"g","E":11.93,"R":3.2},{"s":"g","E":12.24,"R":1.7},{"s":"g","E":12.56,"R":-1},{"s":"g","E":13.02,"R":1.4},{"s":"g","E":13.56,"R":0.2},{"s":"g","E":14.2,"R":1},{"s":"g","E":14.65,"R":-1.3},{"s":"g","E":15.43,"R":1},{"s":"g","E":15.8,"R":-0.4},{"s":"g","E":16.15,"R":-2.3},{"s":"g","E":16.83,"R":-0.3},{"s":"g","E":17.3,"R":1.3},{"s":"g","E":17.72,"R":0.7},{"s":"g","E":18.2,"R":-0.6},{"s":"g","E":18.65,"R":2.7},{"s":"g","E":19.2,"R":0.9},{"s":"g","E":19.64,"R":0},{"s":"g","E":20.36,"R":1},{"s":"g","E":21,"R":-0.7},{"s":"g","E":21.43,"R":2.4},{"s":"g","E":22.1,"R":0.6},{"s":"g","E":22.68,"R":3.7},{"s":"g","E":23.1,"R":-0.2},{"s":"g","E":23.51,"R":-1},{"s":"g","E":24.5,"R":1.4},{"s":"g","E":25.1,"R":0.5},{"s":"g","E":25.8,"R":0},{"s":"g","E":26.3,"R":-0.9},{"s":"g","E":26.73,"R":1.7},{"s":"g","E":27.85,"R":0.2},{"s":"g","E":28.5,"R":-0.7},{"s":"g","E":29.18,"R":1},{"s":"g","E":29.9,"R":0.4},{"s":"g","E":30.7,"R":-2.1},{"s":"g","E":31.7,"R":2},{"s":"g","E":32.4,"R":-0.5},{"s":"g","E":33.2,"R":0.4},{"s":"g","E":34.4,"R":2.7},{"s":"g","E":35.1,"R":-0.8},{"s":"g","E":35.8,"R":0},{"s":"g","E":36.8,"R":-1.6},{"s":"g","E":37.9,"R":-1},{"s":"g","E":39.31,"R":-1.5},{"s":"g","E":40.2,"R":0.2},{"s":"g","E":41.7,"R":1},
      {"s":"lg","E":4.07,"R":3.4},{"s":"lg","E":4.19,"R":3.8},{"s":"lg","E":4.32,"R":-1},{"s":"lg","E":4.43,"R":-1.6},{"s":"lg","E":4.55,"R":-1.3},{"s":"lg","E":4.67,"R":-1},{"s":"lg","E":4.79,"R":0.2},{"s":"lg","E":4.91,"R":-0.5},{"s":"lg","E":5.04,"R":-1.3},{"s":"lg","E":5.14,"R":-1.8},{"s":"lg","E":5.25,"R":2},{"s":"lg","E":5.39,"R":1.4},{"s":"lg","E":5.52,"R":2},{"s":"lg","E":5.67,"R":0.5},{"s":"lg","E":5.88,"R":2.4},{"s":"lg","E":6.03,"R":0},{"s":"lg","E":6.13,"R":1.4},{"s":"lg","E":6.28,"R":-0.5},{"s":"lg","E":6.41,"R":0.4},{"s":"lg","E":6.58,"R":-1},{"s":"lg","E":6.79,"R":-1.1},{"s":"lg","E":6.96,"R":-0.1},{"s":"lg","E":7.14,"R":-1},{"s":"lg","E":7.33,"R":-1.3},{"s":"lg","E":7.51,"R":1.7},{"s":"lg","E":7.71,"R":1.2},{"s":"lg","E":7.91,"R":2},{"s":"lg","E":8.2,"R":-0.8},{"s":"lg","E":8.42,"R":-1.3},{"s":"lg","E":8.64,"R":-0.5},{"s":"lg","E":8.86,"R":0.4},{"s":"lg","E":9.09,"R":-1},{"s":"lg","E":9.33,"R":1},{"s":"lg","E":9.57,"R":-2.3},{"s":"lg","E":9.82,"R":-1.6},{"s":"lg","E":10.07,"R":-0.3},{"s":"lg","E":10.33,"R":-0.8},{"s":"lg","E":10.6,"R":-1},{"s":"lg","E":10.88,"R":0.9},{"s":"lg","E":11.16,"R":2.7},{"s":"lg","E":11.45,"R":-1.3},{"s":"lg","E":11.75,"R":-1.3},{"s":"lg","E":11.93,"R":2},{"s":"lg","E":12.24,"R":-1},{"s":"lg","E":12.56,"R":0.7},{"s":"lg","E":13.02,"R":0},{"s":"lg","E":13.49,"R":-1.6},{"s":"lg","E":13.92,"R":0},{"s":"lg","E":14.06,"R":0.9},{"s":"lg","E":14.8,"R":-0.6},{"s":"lg","E":15.43,"R":2.5},{"s":"lg","E":15.9,"R":0.3},{"s":"lg","E":16.23,"R":-1.3},{"s":"lg","E":16.7,"R":0.8},{"s":"lg","E":17.07,"R":0},{"s":"lg","E":17.5,"R":-0.9},{"s":"lg","E":17.98,"R":-1.8},{"s":"lg","E":18.4,"R":0.2},{"s":"lg","E":18.9,"R":1.4},{"s":"lg","E":19.3,"R":-0.4},{"s":"lg","E":19.64,"R":-0.6},{"s":"lg","E":20.46,"R":0.7},{"s":"lg","E":20.9,"R":-0.7},{"s":"lg","E":21.43,"R":-2.3},{"s":"lg","E":21.9,"R":1.2},{"s":"lg","E":22.33,"R":0.4},{"s":"lg","E":23.15,"R":1},{"s":"lg","E":23.6,"R":-0.6},{"s":"lg","E":24.12,"R":-1.5},{"s":"lg","E":24.8,"R":0.6},{"s":"lg","E":25.39,"R":1.4},{"s":"lg","E":26.32,"R":-0.6},{"s":"lg","E":26.9,"R":0.3},{"s":"lg","E":27.43,"R":-3},{"s":"lg","E":28,"R":0.9},{"s":"lg","E":28.59,"R":-0.3},{"s":"lg","E":29.2,"R":-1.2},{"s":"lg","E":29.93,"R":0.5},{"s":"lg","E":30.9,"R":-1.1},{"s":"lg","E":31.6,"R":0.1},{"s":"lg","E":32.3,"R":1},{"s":"lg","E":33,"R":-1.3},{"s":"lg","E":33.69,"R":-0.6},{"s":"lg","E":35.1,"R":0.2},{"s":"lg","E":35.8,"R":1.2},{"s":"lg","E":36.39,"R":-1.3},{"s":"lg","E":37.7,"R":0.7},{"s":"lg","E":38.9,"R":-2},{"s":"lg","E":39.7,"R":-2.1},{"s":"lg","E":40.6,"R":1.4},{"s":"lg","E":41.9,"R":-0.1},{"s":"lg","E":43.9,"R":2.2},
      {"s":"lb","E":4.07,"R":2},{"s":"lb","E":4.19,"R":2.9},{"s":"lb","E":4.3,"R":1.1},{"s":"lb","E":4.43,"R":-0.5},{"s":"lb","E":4.55,"R":1.1},{"s":"lb","E":4.67,"R":-1.2},{"s":"lb","E":4.79,"R":0.6},{"s":"lb","E":4.91,"R":1.3},{"s":"lb","E":5.04,"R":-0.4},{"s":"lb","E":5.14,"R":1.6},{"s":"lb","E":5.28,"R":1.5},{"s":"lb","E":5.39,"R":-0.4},{"s":"lb","E":5.52,"R":-1.5},{"s":"lb","E":5.64,"R":-0.9},{"s":"lb","E":5.76,"R":0.5},{"s":"lb","E":5.94,"R":3.6},{"s":"lb","E":6.1,"R":1.5},{"s":"lb","E":6.22,"R":0.1},{"s":"lb","E":6.45,"R":-0.4},{"s":"lb","E":6.61,"R":1.3},{"s":"lb","E":6.82,"R":-1.5},{"s":"lb","E":7,"R":0.1},{"s":"lb","E":7.22,"R":-0.5},{"s":"lb","E":7.4,"R":-0.9},{"s":"lb","E":7.6,"R":-1.4},{"s":"lb","E":7.75,"R":2.3},{"s":"lb","E":8,"R":0.1},{"s":"lb","E":8.2,"R":-1.2},{"s":"lb","E":8.42,"R":1.5},{"s":"lb","E":8.64,"R":0.8},{"s":"lb","E":8.86,"R":0.3},{"s":"lb","E":9,"R":2},{"s":"lb","E":9.24,"R":-1.2},{"s":"lb","E":9.47,"R":0.1},{"s":"lb","E":9.72,"R":-2},{"s":"lb","E":9.97,"R":-1.5},{"s":"lb","E":10.23,"R":0.1},{"s":"lb","E":10.6,"R":-0.2},{"s":"lb","E":10.99,"R":1.8},{"s":"lb","E":11.28,"R":0.1},{"s":"lb","E":11.45,"R":-1.2},{"s":"lb","E":11.63,"R":-4.2},{"s":"lb","E":11.93,"R":0.3},{"s":"lb","E":12.24,"R":1.5},{"s":"lb","E":12.56,"R":0.1},{"s":"lb","E":13.02,"R":-0.9},{"s":"lb","E":13.49,"R":1.6},{"s":"lb","E":13.92,"R":0.8},{"s":"lb","E":14.2,"R":1.5},{"s":"lb","E":14.95,"R":-0.5},{"s":"lb","E":15.75,"R":0.1},{"s":"lb","E":16.2,"R":1},{"s":"lb","E":16.57,"R":-1.2},{"s":"lb","E":17,"R":-0.3},{"s":"lb","E":17.45,"R":0.8},{"s":"lb","E":17.9,"R":1.2},{"s":"lb","E":18.37,"R":-0.2},{"s":"lb","E":18.8,"R":-1},{"s":"lb","E":19.34,"R":1.5},{"s":"lb","E":19.8,"R":0.4},{"s":"lb","E":20.15,"R":-1.2},{"s":"lb","E":20.7,"R":0.9},{"s":"lb","E":21.21,"R":0.1},{"s":"lb","E":21.8,"R":1.3},{"s":"lb","E":22.33,"R":-1.9},{"s":"lb","E":22.8,"R":0.5},{"s":"lb","E":23.27,"R":0.8},{"s":"lb","E":23.8,"R":1.6},{"s":"lb","E":24.4,"R":-0.5},{"s":"lb","E":24.9,"R":0.3},{"s":"lb","E":25.39,"R":1.1},{"s":"lb","E":25.9,"R":-0.8},{"s":"lb","E":26.32,"R":-2.5},{"s":"lb","E":26.9,"R":0.9},{"s":"lb","E":27.43,"R":0.1},{"s":"lb","E":28,"R":-0.6},{"s":"lb","E":28.59,"R":3},{"s":"lb","E":29.3,"R":0.5},{"s":"lb","E":30.1,"R":-1.2},{"s":"lb","E":30.8,"R":1.1},{"s":"lb","E":31.5,"R":0.6},{"s":"lb","E":32.2,"R":-0.3},{"s":"lb","E":32.84,"R":-0.7},{"s":"lb","E":34.2,"R":0.8},{"s":"lb","E":35.1,"R":-0.4},{"s":"lb","E":36,"R":-1.9},{"s":"lb","E":36.8,"R":0.6},{"s":"lb","E":37.7,"R":0.1},{"s":"lb","E":38.5,"R":-0.9},{"s":"lb","E":39.31,"R":1.5},{"s":"lb","E":40.8,"R":-0.2},{"s":"lb","E":41.9,"R":0.4},{"s":"lb","E":43,"R":0.8},{"s":"lb","E":46.4,"R":0.3},
      {"s":"b","E":4.07,"R":-0.7},{"s":"b","E":4.19,"R":0.6},{"s":"b","E":4.3,"R":-2.4},{"s":"b","E":4.43,"R":-0.9},{"s":"b","E":4.55,"R":-3},{"s":"b","E":4.67,"R":-1.2},{"s":"b","E":4.79,"R":-1},{"s":"b","E":4.91,"R":-0.9},{"s":"b","E":5.02,"R":2},{"s":"b","E":5.14,"R":-2},{"s":"b","E":5.28,"R":0.1},{"s":"b","E":5.39,"R":1.1},{"s":"b","E":5.64,"R":0.6},{"s":"b","E":5.76,"R":3.3},{"s":"b","E":5.88,"R":2.5},{"s":"b","E":5.94,"R":-1.7},{"s":"b","E":6.06,"R":-1.7},{"s":"b","E":6.28,"R":0.1},{"s":"b","E":6.51,"R":0.3},{"s":"b","E":6.68,"R":1.1},{"s":"b","E":6.86,"R":0.1},{"s":"b","E":7.11,"R":1},{"s":"b","E":7.29,"R":-0.5},{"s":"b","E":7.48,"R":-1},{"s":"b","E":7.67,"R":0},{"s":"b","E":7.87,"R":-2.2},{"s":"b","E":8.08,"R":-0.2},{"s":"b","E":8.33,"R":0.6},{"s":"b","E":8.64,"R":2.5},{"s":"b","E":8.86,"R":0.5},{"s":"b","E":8.95,"R":2.5},{"s":"b","E":9.19,"R":0.8},{"s":"b","E":9.38,"R":-1.9},{"s":"b","E":9.62,"R":-1.5},{"s":"b","E":9.87,"R":-1.9},{"s":"b","E":10.18,"R":1.5},{"s":"b","E":10.44,"R":0.1},{"s":"b","E":10.71,"R":0.5},{"s":"b","E":11.05,"R":1.1},{"s":"b","E":11.33,"R":0.1},{"s":"b","E":11.63,"R":0.5},{"s":"b","E":11.93,"R":2.8},{"s":"b","E":12.24,"R":-1.2},{"s":"b","E":12.56,"R":0.1},{"s":"b","E":12.88,"R":2.5},{"s":"b","E":13.36,"R":-2},{"s":"b","E":13.84,"R":0.8},{"s":"b","E":14.2,"R":2.1},{"s":"b","E":14.65,"R":-1.2},{"s":"b","E":15,"R":0.7},{"s":"b","E":15.43,"R":2.1},{"s":"b","E":15.8,"R":1},{"s":"b","E":16.23,"R":-0.2},{"s":"b","E":16.6,"R":0.9},{"s":"b","E":17.07,"R":1.8},{"s":"b","E":17.5,"R":-0.6},{"s":"b","E":17.98,"R":0.8},{"s":"b","E":18.4,"R":1.3},{"s":"b","E":18.9,"R":2.5},{"s":"b","E":19.4,"R":0.3},{"s":"b","E":19.9,"R":-1.2},{"s":"b","E":20.3,"R":0.6},{"s":"b","E":20.67,"R":1.8},{"s":"b","E":21.2,"R":-0.4},{"s":"b","E":21.76,"R":0.5},{"s":"b","E":22.2,"R":1.6},{"s":"b","E":22.68,"R":1.1},{"s":"b","E":23.2,"R":0.2},{"s":"b","E":23.75,"R":-1.2},{"s":"b","E":24.4,"R":1.2},{"s":"b","E":25,"R":3.1},{"s":"b","E":25.5,"R":0.4},{"s":"b","E":26.05,"R":1.3},{"s":"b","E":26.6,"R":-0.7},{"s":"b","E":27.1,"R":0.1},{"s":"b","E":27.8,"R":1.4},{"s":"b","E":28.59,"R":-2.9},{"s":"b","E":29.1,"R":0.8},{"s":"b","E":29.63,"R":2.1},{"s":"b","E":30.2,"R":-0.3},{"s":"b","E":30.7,"R":0.1},{"s":"b","E":31.3,"R":1.1},{"s":"b","E":32,"R":3.1},{"s":"b","E":32.6,"R":0.5},{"s":"b","E":33.3,"R":-0.5},{"s":"b","E":33.9,"R":0.9},{"s":"b","E":34.57,"R":1.5},{"s":"b","E":35.5,"R":-0.6},{"s":"b","E":36.39,"R":0.1},{"s":"b","E":37.3,"R":0.9},{"s":"b","E":38.31,"R":-0.5},{"s":"b","E":39.1,"R":0.4},{"s":"b","E":40,"R":3},{"s":"b","E":40.8,"R":-0.4},{"s":"b","E":41.7,"R":0.1},{"s":"b","E":43,"R":0.6}
    ],
    "resx": [
      {"s":"gy","E":51.3,"El":49.4,"Eh":53.6,"R":0.7},{"s":"gy","E":56.5,"El":53.1,"Eh":60.4,"R":2.2},{"s":"gy","E":66.0,"El":59.8,"Eh":72.2,"R":0.7},{"s":"gy","E":75.6,"El":73.4,"Eh":77.1,"R":-0.7},
      {"s":"k","E":48.1,"El":46.4,"Eh":49.8,"R":1.0},{"s":"k","E":57.1,"El":54.0,"Eh":61.4,"R":5.1},{"s":"k","E":66.3,"El":61.7,"Eh":70.1,"R":3.4},
      {"s":"sa","E":47.6,"El":46.2,"Eh":49.0,"R":1.3},{"s":"sa","E":52.8,"El":49.6,"Eh":56.2,"R":1.9},{"s":"sa","E":64.5,"El":56.2,"Eh":73.4,"R":1.3},
      {"s":"r","E":48.1,"El":46.4,"Eh":49.8,"R":0.7},{"s":"r","E":63.9,"El":56.8,"Eh":71.9,"R":-0.3},{"s":"r","E":75.0,"El":71.9,"Eh":77.1,"R":0.7},
      {"s":"g","E":46.0,"El":44.8,"Eh":47.3,"R":1.9},{"s":"g","E":49.6,"El":48.0,"Eh":52.0,"R":0.8},{"s":"g","E":59.2,"El":52.6,"Eh":66.2,"R":1.5},{"s":"g","E":69.0,"El":64.5,"Eh":72.0,"R":1.3},
      {"s":"lg","E":49.6,"El":46.9,"Eh":52.6,"R":-0.8},{"s":"lg","E":57.1,"El":52.6,"Eh":62.3,"R":-0.5},{"s":"lg","E":69.0,"El":63.0,"Eh":75.5,"R":-1.0},
      {"s":"lb","E":48.4,"El":47.4,"Eh":50.7,"R":-0.7},{"s":"lb","E":53.1,"El":50.7,"Eh":54.7,"R":1.5},{"s":"lb","E":57.6,"El":54.7,"Eh":60.7,"R":0.3},{"s":"lb","E":63.9,"El":60.1,"Eh":68.3,"R":2.1},{"s":"lb","E":71.9,"El":71.5,"Eh":72.3,"R":-0.5},
      {"s":"b","E":45.7,"El":44.6,"Eh":47.4,"R":-1.2},{"s":"b","E":48.6,"El":46.2,"Eh":50.2,"R":-1.6},{"s":"b","E":52.0,"El":50.2,"Eh":55.9,"R":1.7},{"s":"b","E":60.4,"El":55.9,"Eh":65.5,"R":0.8},{"s":"b","E":69.8,"El":65.5,"Eh":74.5,"R":1.8}
    ],
    "lab": [
      {"p":"a","t":"(a)","E":71.5,"F":4.75},
      {"p":"b","t":"(b)","E":72,"R":3.9},
      {"p":"c","t":"(c)","E":72,"R":4.1},
      {"p":"d","t":"(d)","E":72,"R":4.1},
      {"p":"e","t":"(e)","E":72,"R":4.1}
    ]
  },
  "vconcat": [
    {
      "width": 613,
      "height": 486,
      "layer": [
        {
          "data": {"name": "gauss"},
          "mark": {"type": "line", "strokeDash": [7, 3], "strokeWidth": 2, "clip": true},
          "encoding": {
            "x": {"field": "E", "type": "quantitative", "scale": {"type": "log", "domain": [3.52, 81.8], "nice": false}, "axis": null},
            "y": {"field": "F", "type": "quantitative", "scale": {"type": "log", "domain": [0.002, 10], "nice": false}, "axis": null},
            "color": {"field": "s", "type": "nominal", "scale": {"domain": ["k","gy","r","sa","g","lg","b","lb"], "range": ["#000000","#a9a9a9","#ff0000","#ffa07a","#228b22","#7cfc00","#0000ff","#00bfff"]}, "legend": null}
          }
        },
        {
          "data": {"name": "spec"},
          "mark": {"type": "line", "strokeWidth": 4, "clip": true},
          "encoding": {
            "x": {"field": "E", "type": "quantitative", "scale": {"type": "log", "domain": [3.52, 81.8], "nice": false}, "axis": null},
            "y": {"field": "F", "type": "quantitative", "scale": {"type": "log", "domain": [0.002, 10], "nice": false}, "axis": null},
            "color": {"field": "s", "type": "nominal", "scale": {"domain": ["k","gy","r","sa","g","lg","b","lb"], "range": ["#000000","#a9a9a9","#ff0000","#ffa07a","#228b22","#7cfc00","#0000ff","#00bfff"]}, "legend": null}
          }
        },
        {
          "data": {"name": "spec"},
          "transform": [{"filter": "datum.E >= 20"}],
          "mark": {"type": "tick", "orient": "vertical", "size": 9, "thickness": 1.6, "clip": true},
          "encoding": {
            "x": {"field": "E", "type": "quantitative", "scale": {"type": "log", "domain": [3.52, 81.8], "nice": false}, "axis": null},
            "y": {"field": "F", "type": "quantitative", "scale": {"type": "log", "domain": [0.002, 10], "nice": false}, "axis": null},
            "color": {"field": "s", "type": "nominal", "scale": {"domain": ["k","gy","r","sa","g","lg","b","lb"], "range": ["#000000","#a9a9a9","#ff0000","#ffa07a","#228b22","#7cfc00","#0000ff","#00bfff"]}, "legend": null}
          }
        },
        {
          "data": {"name": "spec"},
          "mark": {"type": "circle", "size": 16, "opacity": 1, "clip": true},
          "encoding": {
            "x": {"field": "E", "type": "quantitative", "scale": {"type": "log", "domain": [3.52, 81.8], "nice": false},
              "axis": {"orient": "bottom", "values": [4,5,6,7,8,9,10,20,30,40,50,60,70,80], "labels": false, "title": null}},
            "y": {"field": "F", "type": "quantitative", "scale": {"type": "log", "domain": [0.002, 10], "nice": false},
              "axis": {"orient": "left", "values": [0.002,0.003,0.004,0.005,0.006,0.007,0.008,0.009,0.01,0.02,0.03,0.04,0.05,0.06,0.07,0.08,0.09,0.1,0.2,0.3,0.4,0.5,0.6,0.7,0.8,0.9,1,2,3,4,5,6,7,8,9,10],
                "labelExpr": "datum.value == 10 ? '10¹' : datum.value == 1 ? '10⁰' : datum.value == 0.1 ? '10⁻¹' : datum.value == 0.01 ? '10⁻²' : ''",
                "labelOverlap": false,
                "title": "EF_E (keV² s⁻¹ cm⁻² keV⁻¹)", "titlePadding": 20}},
            "color": {"field": "s", "type": "nominal", "scale": {"domain": ["k","gy","r","sa","g","lg","b","lb"], "range": ["#000000","#a9a9a9","#ff0000","#ffa07a","#228b22","#7cfc00","#0000ff","#00bfff"]}, "legend": null}
          }
        },
        {
          "data": {"name": "cross"},
          "mark": {"type": "rule", "strokeWidth": 2, "clip": true},
          "encoding": {
            "x": {"field": "El", "type": "quantitative", "scale": {"type": "log", "domain": [3.52, 81.8], "nice": false}, "axis": null},
            "x2": {"field": "Eh"},
            "y": {"field": "F", "type": "quantitative", "scale": {"type": "log", "domain": [0.002, 10], "nice": false}, "axis": null},
            "color": {"field": "s", "type": "nominal", "scale": {"domain": ["k","gy","r","sa","g","lg","b","lb"], "range": ["#000000","#a9a9a9","#ff0000","#ffa07a","#228b22","#7cfc00","#0000ff","#00bfff"]}, "legend": null}
          }
        },
        {
          "data": {"name": "cross"},
          "mark": {"type": "rule", "strokeWidth": 2, "clip": true},
          "encoding": {
            "x": {"field": "E", "type": "quantitative", "scale": {"type": "log", "domain": [3.52, 81.8], "nice": false}, "axis": null},
            "y": {"field": "Fl", "type": "quantitative", "scale": {"type": "log", "domain": [0.002, 10], "nice": false}, "axis": null},
            "y2": {"field": "Fh"},
            "color": {"field": "s", "type": "nominal", "scale": {"domain": ["k","gy","r","sa","g","lg","b","lb"], "range": ["#000000","#a9a9a9","#ff0000","#ffa07a","#228b22","#7cfc00","#0000ff","#00bfff"]}, "legend": null}
          }
        },
        {
          "data": {"name": "model"},
          "mark": {"type": "line", "color": "#808080", "strokeWidth": 2, "clip": true},
          "encoding": {
            "x": {"field": "E", "type": "quantitative", "scale": {"type": "log", "domain": [3.52, 81.8], "nice": false},
              "axis": {"orient": "top", "values": [4,5,6,7,8,9,10,20,30,40,50,60,70,80], "labels": false, "title": null}},
            "y": {"field": "F", "type": "quantitative", "scale": {"type": "log", "domain": [0.002, 10], "nice": false},
              "axis": {"orient": "right", "values": [0.002,0.003,0.004,0.005,0.006,0.007,0.008,0.009,0.01,0.02,0.03,0.04,0.05,0.06,0.07,0.08,0.09,0.1,0.2,0.3,0.4,0.5,0.6,0.7,0.8,0.9,1,2,3,4,5,6,7,8,9,10], "labels": false, "title": null}},
            "detail": {"field": "m", "type": "nominal"}
          }
        },
        {
          "data": {"name": "lab"},
          "transform": [{"filter": "datum.p == 'a'"}],
          "mark": {"type": "text", "fontSize": 19, "color": "black"},
          "encoding": {
            "x": {"field": "E", "type": "quantitative", "scale": {"type": "log", "domain": [3.52, 81.8], "nice": false}, "axis": null},
            "y": {"field": "F", "type": "quantitative", "scale": {"type": "log", "domain": [0.002, 10], "nice": false}, "axis": null},
            "text": {"field": "t"}
          }
        }
      ],
      "resolve": {"axis": {"x": "independent", "y": "independent"}}
    },
    {
      "width": 613,
      "height": 121,
      "layer": [
        {
          "data": {"values": [{}]},
          "mark": {"type": "rule", "color": "black", "strokeWidth": 1.5},
          "encoding": {"y": {"datum": 0, "type": "quantitative", "scale": {"domain": [-6.9, 6.9], "nice": false}, "axis": null}}
        },
        {
          "data": {"name": "resx"},
          "transform": [{"filter": {"field": "s", "oneOf": ["gy", "k"]}}],
          "mark": {"type": "rule", "strokeWidth": 2, "clip": true},
          "encoding": {
            "x": {"field": "El", "type": "quantitative", "scale": {"type": "log", "domain": [3.52, 81.8], "nice": false}, "axis": null},
            "x2": {"field": "Eh"},
            "y": {"field": "R", "type": "quantitative", "scale": {"domain": [-6.9, 6.9], "nice": false}, "axis": null},
            "color": {"field": "s", "type": "nominal", "scale": {"domain": ["k","gy","r","sa","g","lg","b","lb"], "range": ["#000000","#a9a9a9","#ff0000","#ffa07a","#228b22","#7cfc00","#0000ff","#00bfff"]}, "legend": null}
          }
        },
        {
          "data": {"name": "resx"},
          "transform": [{"filter": {"field": "s", "oneOf": ["gy", "k"]}}],
          "mark": {"type": "tick", "orient": "vertical", "size": 16, "thickness": 2, "clip": true},
          "encoding": {
            "x": {"field": "E", "type": "quantitative", "scale": {"type": "log", "domain": [3.52, 81.8], "nice": false}, "axis": null},
            "y": {"field": "R", "type": "quantitative", "scale": {"domain": [-6.9, 6.9], "nice": false}, "axis": null},
            "color": {"field": "s", "type": "nominal", "scale": {"domain": ["k","gy","r","sa","g","lg","b","lb"], "range": ["#000000","#a9a9a9","#ff0000","#ffa07a","#228b22","#7cfc00","#0000ff","#00bfff"]}, "legend": null}
          }
        },
        {
          "data": {"name": "res"},
          "transform": [{"filter": {"field": "s", "oneOf": ["gy", "k"]}}],
          "mark": {"type": "tick", "orient": "vertical", "size": 16, "thickness": 2, "clip": true},
          "encoding": {
            "x": {"field": "E", "type": "quantitative", "scale": {"type": "log", "domain": [3.52, 81.8], "nice": false},
              "axis": {"orient": "top", "values": [4,5,6,7,8,9,10,20,30,40,50,60,70,80], "labels": false, "title": null}},
            "y": {"field": "R", "type": "quantitative", "scale": {"domain": [-6.9, 6.9], "nice": false},
              "axis": {"orient": "right", "values": [-4, 0, 4], "labels": false, "title": null}},
            "color": {"field": "s", "type": "nominal", "scale": {"domain": ["k","gy","r","sa","g","lg","b","lb"], "range": ["#000000","#a9a9a9","#ff0000","#ffa07a","#228b22","#7cfc00","#0000ff","#00bfff"]}, "legend": null}
          }
        },
        {
          "data": {"name": "res"},
          "transform": [{"filter": {"field": "s", "oneOf": ["gy", "k"]}}],
          "mark": {"type": "circle", "size": 14, "opacity": 1, "clip": true},
          "encoding": {
            "x": {"field": "E", "type": "quantitative", "scale": {"type": "log", "domain": [3.52, 81.8], "nice": false},
              "axis": {"orient": "bottom", "values": [4,5,6,7,8,9,10,20,30,40,50,60,70,80], "labels": false, "title": null}},
            "y": {"field": "R", "type": "quantitative", "scale": {"domain": [-6.9, 6.9], "nice": false},
              "axis": {"orient": "left", "values": [-4, 0, 4], "title": null}},
            "color": {"field": "s", "type": "nominal", "scale": {"domain": ["k","gy","r","sa","g","lg","b","lb"], "range": ["#000000","#a9a9a9","#ff0000","#ffa07a","#228b22","#7cfc00","#0000ff","#00bfff"]}, "legend": null}
          }
        },
        {
          "data": {"name": "lab"},
          "transform": [{"filter": "datum.p == 'b'"}],
          "mark": {"type": "text", "fontSize": 19, "color": "black"},
          "encoding": {
            "x": {"field": "E", "type": "quantitative", "scale": {"type": "log", "domain": [3.52, 81.8], "nice": false}, "axis": null},
            "y": {"field": "R", "type": "quantitative", "scale": {"domain": [-6.9, 6.9], "nice": false}, "axis": null},
            "text": {"field": "t"}
          }
        }
      ],
      "resolve": {"axis": {"x": "independent", "y": "independent"}}
    },
    {
      "width": 613,
      "height": 121,
      "layer": [
        {
          "data": {"values": [{}]},
          "mark": {"type": "rule", "color": "black", "strokeWidth": 1.5},
          "encoding": {"y": {"datum": 0, "type": "quantitative", "scale": {"domain": [-5.8, 5.8], "nice": false}, "axis": null}}
        },
        {
          "data": {"name": "resx"},
          "transform": [{"filter": {"field": "s", "oneOf": ["sa", "r"]}}],
          "mark": {"type": "rule", "strokeWidth": 2, "clip": true},
          "encoding": {
            "x": {"field": "El", "type": "quantitative", "scale": {"type": "log", "domain": [3.52, 81.8], "nice": false}, "axis": null},
            "x2": {"field": "Eh"},
            "y": {"field": "R", "type": "quantitative", "scale": {"domain": [-5.8, 5.8], "nice": false}, "axis": null},
            "color": {"field": "s", "type": "nominal", "scale": {"domain": ["k","gy","r","sa","g","lg","b","lb"], "range": ["#000000","#a9a9a9","#ff0000","#ffa07a","#228b22","#7cfc00","#0000ff","#00bfff"]}, "legend": null}
          }
        },
        {
          "data": {"name": "resx"},
          "transform": [{"filter": {"field": "s", "oneOf": ["sa", "r"]}}],
          "mark": {"type": "tick", "orient": "vertical", "size": 17, "thickness": 2, "clip": true},
          "encoding": {
            "x": {"field": "E", "type": "quantitative", "scale": {"type": "log", "domain": [3.52, 81.8], "nice": false}, "axis": null},
            "y": {"field": "R", "type": "quantitative", "scale": {"domain": [-5.8, 5.8], "nice": false}, "axis": null},
            "color": {"field": "s", "type": "nominal", "scale": {"domain": ["k","gy","r","sa","g","lg","b","lb"], "range": ["#000000","#a9a9a9","#ff0000","#ffa07a","#228b22","#7cfc00","#0000ff","#00bfff"]}, "legend": null}
          }
        },
        {
          "data": {"name": "res"},
          "transform": [{"filter": {"field": "s", "oneOf": ["sa", "r"]}}],
          "mark": {"type": "tick", "orient": "vertical", "size": 17, "thickness": 2, "clip": true},
          "encoding": {
            "x": {"field": "E", "type": "quantitative", "scale": {"type": "log", "domain": [3.52, 81.8], "nice": false},
              "axis": {"orient": "top", "values": [4,5,6,7,8,9,10,20,30,40,50,60,70,80], "labels": false, "title": null}},
            "y": {"field": "R", "type": "quantitative", "scale": {"domain": [-5.8, 5.8], "nice": false},
              "axis": {"orient": "right", "values": [-3, 0, 3], "labels": false, "title": null}},
            "color": {"field": "s", "type": "nominal", "scale": {"domain": ["k","gy","r","sa","g","lg","b","lb"], "range": ["#000000","#a9a9a9","#ff0000","#ffa07a","#228b22","#7cfc00","#0000ff","#00bfff"]}, "legend": null}
          }
        },
        {
          "data": {"name": "res"},
          "transform": [{"filter": {"field": "s", "oneOf": ["sa", "r"]}}],
          "mark": {"type": "circle", "size": 14, "opacity": 1, "clip": true},
          "encoding": {
            "x": {"field": "E", "type": "quantitative", "scale": {"type": "log", "domain": [3.52, 81.8], "nice": false},
              "axis": {"orient": "bottom", "values": [4,5,6,7,8,9,10,20,30,40,50,60,70,80], "labels": false, "title": null}},
            "y": {"field": "R", "type": "quantitative", "scale": {"domain": [-5.8, 5.8], "nice": false},
              "axis": {"orient": "left", "values": [-3, 0, 3], "title": "χ", "titlePadding": 14}},
            "color": {"field": "s", "type": "nominal", "scale": {"domain": ["k","gy","r","sa","g","lg","b","lb"], "range": ["#000000","#a9a9a9","#ff0000","#ffa07a","#228b22","#7cfc00","#0000ff","#00bfff"]}, "legend": null}
          }
        },
        {
          "data": {"name": "lab"},
          "transform": [{"filter": "datum.p == 'c'"}],
          "mark": {"type": "text", "fontSize": 19, "color": "black"},
          "encoding": {
            "x": {"field": "E", "type": "quantitative", "scale": {"type": "log", "domain": [3.52, 81.8], "nice": false}, "axis": null},
            "y": {"field": "R", "type": "quantitative", "scale": {"domain": [-5.8, 5.8], "nice": false}, "axis": null},
            "text": {"field": "t"}
          }
        }
      ],
      "resolve": {"axis": {"x": "independent", "y": "independent"}}
    },
    {
      "width": 613,
      "height": 122,
      "layer": [
        {
          "data": {"values": [{}]},
          "mark": {"type": "rule", "color": "black", "strokeWidth": 1.5},
          "encoding": {"y": {"datum": 0, "type": "quantitative", "scale": {"domain": [-6.1, 6.1], "nice": false}, "axis": null}}
        },
        {
          "data": {"name": "resx"},
          "transform": [{"filter": {"field": "s", "oneOf": ["g", "lg"]}}],
          "mark": {"type": "rule", "strokeWidth": 2, "clip": true},
          "encoding": {
            "x": {"field": "El", "type": "quantitative", "scale": {"type": "log", "domain": [3.52, 81.8], "nice": false}, "axis": null},
            "x2": {"field": "Eh"},
            "y": {"field": "R", "type": "quantitative", "scale": {"domain": [-6.1, 6.1], "nice": false}, "axis": null},
            "color": {"field": "s", "type": "nominal", "scale": {"domain": ["k","gy","r","sa","g","lg","b","lb"], "range": ["#000000","#a9a9a9","#ff0000","#ffa07a","#228b22","#7cfc00","#0000ff","#00bfff"]}, "legend": null}
          }
        },
        {
          "data": {"name": "resx"},
          "transform": [{"filter": {"field": "s", "oneOf": ["g", "lg"]}}],
          "mark": {"type": "tick", "orient": "vertical", "size": 17, "thickness": 2, "clip": true},
          "encoding": {
            "x": {"field": "E", "type": "quantitative", "scale": {"type": "log", "domain": [3.52, 81.8], "nice": false}, "axis": null},
            "y": {"field": "R", "type": "quantitative", "scale": {"domain": [-6.1, 6.1], "nice": false}, "axis": null},
            "color": {"field": "s", "type": "nominal", "scale": {"domain": ["k","gy","r","sa","g","lg","b","lb"], "range": ["#000000","#a9a9a9","#ff0000","#ffa07a","#228b22","#7cfc00","#0000ff","#00bfff"]}, "legend": null}
          }
        },
        {
          "data": {"name": "res"},
          "transform": [{"filter": {"field": "s", "oneOf": ["g", "lg"]}}],
          "mark": {"type": "tick", "orient": "vertical", "size": 17, "thickness": 2, "clip": true},
          "encoding": {
            "x": {"field": "E", "type": "quantitative", "scale": {"type": "log", "domain": [3.52, 81.8], "nice": false},
              "axis": {"orient": "top", "values": [4,5,6,7,8,9,10,20,30,40,50,60,70,80], "labels": false, "title": null}},
            "y": {"field": "R", "type": "quantitative", "scale": {"domain": [-6.1, 6.1], "nice": false},
              "axis": {"orient": "right", "values": [-3, 0, 3], "labels": false, "title": null}},
            "color": {"field": "s", "type": "nominal", "scale": {"domain": ["k","gy","r","sa","g","lg","b","lb"], "range": ["#000000","#a9a9a9","#ff0000","#ffa07a","#228b22","#7cfc00","#0000ff","#00bfff"]}, "legend": null}
          }
        },
        {
          "data": {"name": "res"},
          "transform": [{"filter": {"field": "s", "oneOf": ["g", "lg"]}}],
          "mark": {"type": "circle", "size": 14, "opacity": 1, "clip": true},
          "encoding": {
            "x": {"field": "E", "type": "quantitative", "scale": {"type": "log", "domain": [3.52, 81.8], "nice": false},
              "axis": {"orient": "bottom", "values": [4,5,6,7,8,9,10,20,30,40,50,60,70,80], "labels": false, "title": null}},
            "y": {"field": "R", "type": "quantitative", "scale": {"domain": [-6.1, 6.1], "nice": false},
              "axis": {"orient": "left", "values": [-3, 0, 3], "title": null}},
            "color": {"field": "s", "type": "nominal", "scale": {"domain": ["k","gy","r","sa","g","lg","b","lb"], "range": ["#000000","#a9a9a9","#ff0000","#ffa07a","#228b22","#7cfc00","#0000ff","#00bfff"]}, "legend": null}
          }
        },
        {
          "data": {"name": "lab"},
          "transform": [{"filter": "datum.p == 'd'"}],
          "mark": {"type": "text", "fontSize": 19, "color": "black"},
          "encoding": {
            "x": {"field": "E", "type": "quantitative", "scale": {"type": "log", "domain": [3.52, 81.8], "nice": false}, "axis": null},
            "y": {"field": "R", "type": "quantitative", "scale": {"domain": [-6.1, 6.1], "nice": false}, "axis": null},
            "text": {"field": "t"}
          }
        }
      ],
      "resolve": {"axis": {"x": "independent", "y": "independent"}}
    },
    {
      "width": 613,
      "height": 121,
      "layer": [
        {
          "data": {"values": [{}]},
          "mark": {"type": "rule", "color": "black", "strokeWidth": 1.5},
          "encoding": {"y": {"datum": 0, "type": "quantitative", "scale": {"domain": [-6, 6], "nice": false}, "axis": null}}
        },
        {
          "data": {"name": "resx"},
          "transform": [{"filter": {"field": "s", "oneOf": ["lb", "b"]}}],
          "mark": {"type": "rule", "strokeWidth": 2, "clip": true},
          "encoding": {
            "x": {"field": "El", "type": "quantitative", "scale": {"type": "log", "domain": [3.52, 81.8], "nice": false}, "axis": null},
            "x2": {"field": "Eh"},
            "y": {"field": "R", "type": "quantitative", "scale": {"domain": [-6, 6], "nice": false}, "axis": null},
            "color": {"field": "s", "type": "nominal", "scale": {"domain": ["k","gy","r","sa","g","lg","b","lb"], "range": ["#000000","#a9a9a9","#ff0000","#ffa07a","#228b22","#7cfc00","#0000ff","#00bfff"]}, "legend": null}
          }
        },
        {
          "data": {"name": "resx"},
          "transform": [{"filter": {"field": "s", "oneOf": ["lb", "b"]}}],
          "mark": {"type": "tick", "orient": "vertical", "size": 17, "thickness": 2, "clip": true},
          "encoding": {
            "x": {"field": "E", "type": "quantitative", "scale": {"type": "log", "domain": [3.52, 81.8], "nice": false}, "axis": null},
            "y": {"field": "R", "type": "quantitative", "scale": {"domain": [-6, 6], "nice": false}, "axis": null},
            "color": {"field": "s", "type": "nominal", "scale": {"domain": ["k","gy","r","sa","g","lg","b","lb"], "range": ["#000000","#a9a9a9","#ff0000","#ffa07a","#228b22","#7cfc00","#0000ff","#00bfff"]}, "legend": null}
          }
        },
        {
          "data": {"name": "res"},
          "transform": [{"filter": {"field": "s", "oneOf": ["lb", "b"]}}],
          "mark": {"type": "tick", "orient": "vertical", "size": 17, "thickness": 2, "clip": true},
          "encoding": {
            "x": {"field": "E", "type": "quantitative", "scale": {"type": "log", "domain": [3.52, 81.8], "nice": false},
              "axis": {"orient": "top", "values": [4,5,6,7,8,9,10,20,30,40,50,60,70,80], "labels": false, "title": null}},
            "y": {"field": "R", "type": "quantitative", "scale": {"domain": [-6, 6], "nice": false},
              "axis": {"orient": "right", "values": [-3, 0, 3], "labels": false, "title": null}},
            "color": {"field": "s", "type": "nominal", "scale": {"domain": ["k","gy","r","sa","g","lg","b","lb"], "range": ["#000000","#a9a9a9","#ff0000","#ffa07a","#228b22","#7cfc00","#0000ff","#00bfff"]}, "legend": null}
          }
        },
        {
          "data": {"name": "res"},
          "transform": [{"filter": {"field": "s", "oneOf": ["lb", "b"]}}],
          "mark": {"type": "circle", "size": 14, "opacity": 1, "clip": true},
          "encoding": {
            "x": {"field": "E", "type": "quantitative", "scale": {"type": "log", "domain": [3.52, 81.8], "nice": false},
              "axis": {"orient": "bottom", "values": [4,5,6,7,8,9,10,20,30,40,50,60,70,80],
                "labelExpr": "datum.value == 4 ? '4' : datum.value == 10 ? '10' : datum.value == 50 ? '50' : ''",
                "labelOverlap": false, "labelFlush": false,
                "title": "Energy (keV)", "titlePadding": 8}},
            "y": {"field": "R", "type": "quantitative", "scale": {"domain": [-6, 6], "nice": false},
              "axis": {"orient": "left", "values": [-3, 0, 3], "title": null}},
            "color": {"field": "s", "type": "nominal", "scale": {"domain": ["k","gy","r","sa","g","lg","b","lb"], "range": ["#000000","#a9a9a9","#ff0000","#ffa07a","#228b22","#7cfc00","#0000ff","#00bfff"]}, "legend": null}
          }
        },
        {
          "data": {"name": "lab"},
          "transform": [{"filter": "datum.p == 'e'"}],
          "mark": {"type": "text", "fontSize": 19, "color": "black"},
          "encoding": {
            "x": {"field": "E", "type": "quantitative", "scale": {"type": "log", "domain": [3.52, 81.8], "nice": false}, "axis": null},
            "y": {"field": "R", "type": "quantitative", "scale": {"domain": [-6, 6], "nice": false}, "axis": null},
            "text": {"field": "t"}
          }
        }
      ],
      "resolve": {"axis": {"x": "independent", "y": "independent"}}
    }
  ]
}
